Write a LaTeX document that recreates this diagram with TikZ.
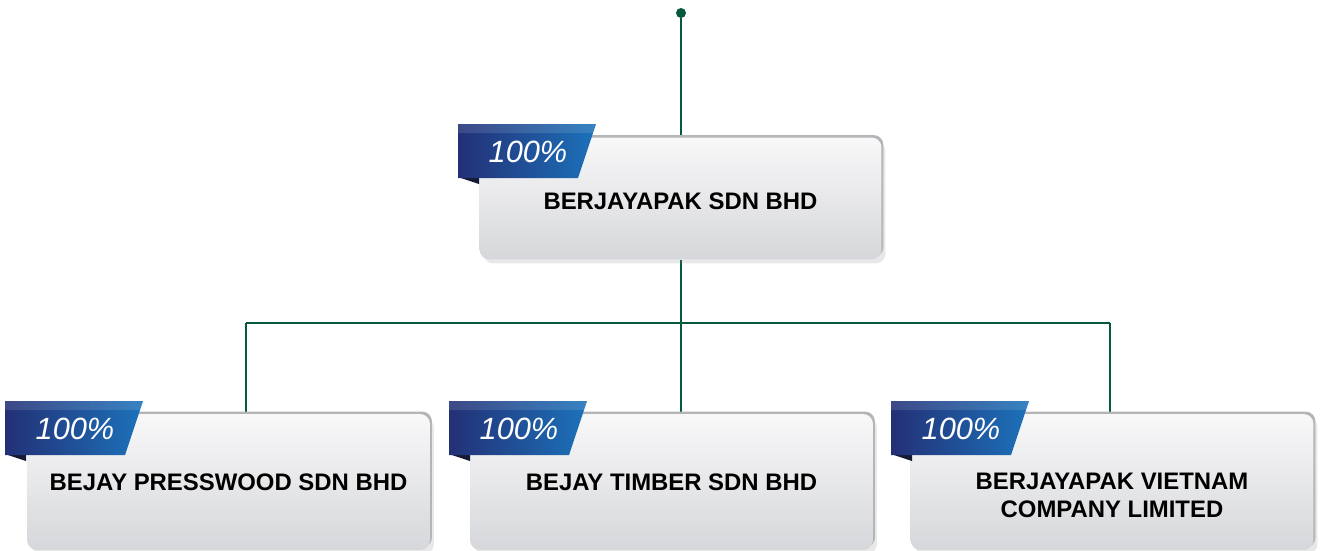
\documentclass[tikz,border=0pt]{standalone}
\usepackage{fontspec}
\setmainfont{Liberation Sans}
\usepackage{tikz}
\usetikzlibrary{positioning,shadows,calc}
\usepackage{xcolor}
\definecolor{linegreen}{RGB}{6,88,62}
\definecolor{navy}{RGB}{35,48,118}
\definecolor{ribbonblue}{RGB}{28,114,186}
\definecolor{boxtop}{RGB}{248,248,249}
\definecolor{boxmid}{RGB}{220,221,223}
\definecolor{boxbottom}{RGB}{214,215,218}
\definecolor{boxedge}{RGB}{180,181,184}
\definecolor{folddark}{RGB}{22,26,52}
\pgfdeclarelayer{edgelayer}
\pgfdeclarelayer{nodelayer}
\pgfsetlayers{edgelayer,nodelayer,main}
\tikzstyle{company}=[rounded corners=0.2cm, minimum width=8.04cm, minimum height=2.44cm, inner sep=0pt,
  top color=boxtop, middle color=boxmid, bottom color=boxbottom, align=center,
  font=\bfseries\fontsize{13.6}{15.9}\selectfont,
  drop shadow={opacity=0.18, shadow xshift=0.08cm, shadow yshift=-0.08cm},
  general shadow={fill=boxedge, shadow xshift=0.04cm, shadow yshift=0.05cm}]
\tikzstyle{subsidiary}=[company, minimum width=8.06cm, minimum height=2.72cm]
\tikzstyle{boxtext}=[inner sep=0pt, align=center, font=\bfseries\fontsize{13.6}{15.9}\selectfont]
\tikzstyle{share}=[text=white, inner sep=0pt, font=\itshape\fontsize{17.5}{20}\selectfont]
\tikzstyle{link}=[-, draw=linegreen, line width=1.1pt]
\tikzstyle{rootdot}=[circle, fill=linegreen, inner sep=0pt, minimum size=0.2cm]
\tikzstyle{none}=[inner sep=0pt]
% ribbon with the share label: #1 name, #2 left x, #3 top y
\newcommand{\shareribbon}[3]{%
  \fill [folddark] (#2,#3+53) -- (#2+21,#3+53) -- (#2+21,#3+60) -- cycle;
  \shade [left color=navy, right color=ribbonblue] (#2,#3) -- (#2+138,#3) -- (#2+120,#3+54) -- (#2,#3+54) -- cycle;
  \fill [white, opacity=0.12] (#2,#3) -- (#2+138,#3) -- (#2+135,#3+9) -- (#2,#3+9) -- cycle;
  \node [style=share] (#1) at (#2+70,#3+27.5) {100\%};}

\begin{document}
\begin{tikzpicture}[x=0.02cm, y=-0.02cm]
	\useasboundingbox (0,0) rectangle (1322,551);
	\begin{pgfonlayer}{nodelayer}
		\node [style=company] (parent) at (680.5,198.5) {};
		\node [style=subsidiary] (presswood) at (228.5,482) {BEJAY PRESSWOOD SDN BHD};
		\node [style=subsidiary] (timber) at (671.5,482) {BEJAY TIMBER SDN BHD};
		\node [style=subsidiary] (vietnam) at (1112,482) {};
	\end{pgfonlayer}
	\node [style=boxtext] (parentlabel) at ($(parent.center)+(0,3)$) {BERJAYAPAK SDN BHD};
	\node [style=boxtext] (vietnamlabel) at ($(vietnam.center)+(0,13)$) {BERJAYAPAK VIETNAM\\COMPANY LIMITED};
	\shareribbon{pparent}{458}{124}
	\shareribbon{ppresswood}{5}{401}
	\shareribbon{ptimber}{449}{401}
	\shareribbon{pvietnam}{891}{401}
	\node [style=rootdot] (root) at (681,13) {};
	\coordinate (hub) at (681,323);
	\coordinate (jl) at (246,323);
	\coordinate (jr) at (1110,323);
	\begin{pgfonlayer}{edgelayer}
		\draw [style=link] (root) to (root |- parent.north);
		\draw [style=link] (hub |- parent.south) to (hub);
		\draw [style=link] (jl) to (jr);
		\draw [style=link] (jl) to (jl |- presswood.north);
		\draw [style=link] (hub) to (hub |- timber.north);
		\draw [style=link] (jr) to (jr |- vietnam.north);
	\end{pgfonlayer}
\end{tikzpicture}
\end{document}
